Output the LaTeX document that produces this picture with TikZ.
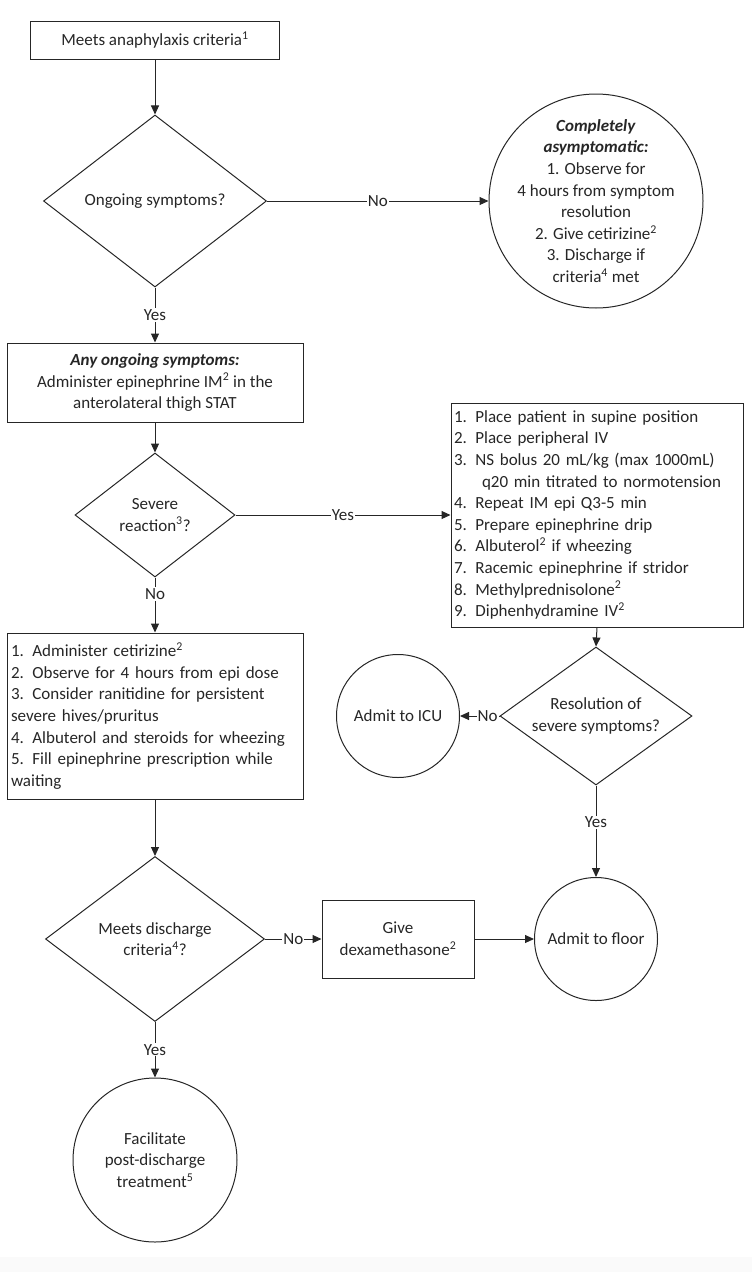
\documentclass[tikz,border=0pt]{standalone}
\usepackage{fontspec}
\setmainfont{Carlito}
\usetikzlibrary{shapes.geometric,arrows.meta}
\begin{document}
\begin{tikzpicture}[x=1pt,y=-1pt,
  font=\fontsize{17}{21.6}\selectfont,
  every node/.style={text=black!85},
  box/.style={draw=black!85, rectangle, line width=1pt, inner sep=3pt},
  dia/.style={draw=black!85, diamond, line width=1pt, inner sep=0pt},
  circ/.style={draw=black!85, circle, line width=1pt, inner sep=0pt},
  arr/.style={draw=black!85, line width=1pt, -{Triangle[length=9pt,width=8pt]}},
  lab/.style={fill=white, inner sep=1pt}]
\useasboundingbox (0,0) rectangle (752,1272);
\fill[black!2] (0,1257) rectangle (752,1272);

\node[box, minimum width=249, minimum height=38] (start) at (155,40) {Meets anaphylaxis criteria\textsuperscript{1}};
\node[dia, minimum width=223, minimum height=172, label={center:Ongoing symptoms?}] (d1) at (155,201) {};
\node[circ, minimum size=214, label={[align=center]center:\textbf{\textit{Completely}}\\\textbf{\textit{asymptomatic:}}\\1. Observe for\\4 hours from symptom\\resolution\\2. Give cetirizine\textsuperscript{2}\\3. Discharge if\\criteria\textsuperscript{4} met}] (asym) at (596,201) {};
\node[box, minimum width=296, minimum height=79, align=center] (epi) at (155,382.5) {\textbf{\textit{Any ongoing symptoms:}}\\Administer epinephrine IM\textsuperscript{2} in the\\anterolateral thigh STAT};
\node[dia, minimum width=160, minimum height=124, label={[align=center]center:Severe\\reaction\textsuperscript{3}?}] (d2) at (155,515) {};
\node[box, minimum width=292, minimum height=224, text width=286, inner sep=3pt, align=left] (severe) at (597,515) {1. Place patient in supine position\\2. Place peripheral IV\\3. NS bolus 20 mL/kg (max 1000mL)\\\hspace*{28pt}q20 min titrated to normotension\\4. Repeat IM epi Q3-5 min\\5. Prepare epinephrine drip\\6. Albuterol\textsuperscript{2} if wheezing\\7. Racemic epinephrine if stridor\\8. Methylprednisolone\textsuperscript{2}\\9. Diphenhydramine IV\textsuperscript{2}};
\node[box, minimum width=296, minimum height=166, text width=288, inner sep=4pt, align=left] (obs) at (155,716) {1. Administer cetirizine\textsuperscript{2}\\2. Observe for 4 hours from epi dose\\3. Consider ranitidine for persistent\\severe hives/pruritus\\4. Albuterol and steroids for wheezing\\5. Fill epinephrine prescription while\\waiting};
\node[dia, minimum width=192, minimum height=138, label={[align=center]center:Resolution of\\severe symptoms?}] (d3) at (596,716) {};
\node[circ, minimum size=123, label={center:Admit to ICU}] (icu) at (398,716) {};
\node[circ, minimum size=123, label={center:Admit to floor}] (floor) at (596,939) {};
\node[box, minimum width=152, minimum height=78, align=center] (dexa) at (398,939) {Give\\dexamethasone\textsuperscript{2}};
\node[dia, minimum width=219, minimum height=165, label={[align=center]center:Meets discharge\\criteria\textsuperscript{4}?}] (d4) at (155,939) {};
\node[circ, minimum size=164, label={[align=center]center:Facilitate\\post-discharge\\treatment\textsuperscript{5}}] (post) at (155,1160) {};

\draw[arr] (start) -- (d1);
\draw[arr] (d1.east) -- node[lab]{No} (asym.west);
\draw[arr] (d1.south) -- node[lab]{Yes} (epi.north);
\draw[arr] (epi) -- (d2);
\draw[arr] (d2.east) -- node[lab]{Yes} (severe.west);
\draw[arr] (d2.south) -- node[lab, pos=0.3]{No} (obs.north);
\draw[arr] (severe.south) -- (d3.north);
\draw[arr] (d3.west) -- node[lab, pos=0.3]{No} (icu.east);
\draw[arr] (d3.south) -- node[lab, pos=0.4]{Yes} (floor.north);
\draw[arr] (obs.south) -- (d4.north);
\draw[arr] (d4.east) -- node[lab]{No} (dexa.west);
\draw[arr] (dexa.east) -- (floor.west);
\draw[arr] (d4.south) -- node[lab]{Yes} (post.north);
\end{tikzpicture}
\end{document}
